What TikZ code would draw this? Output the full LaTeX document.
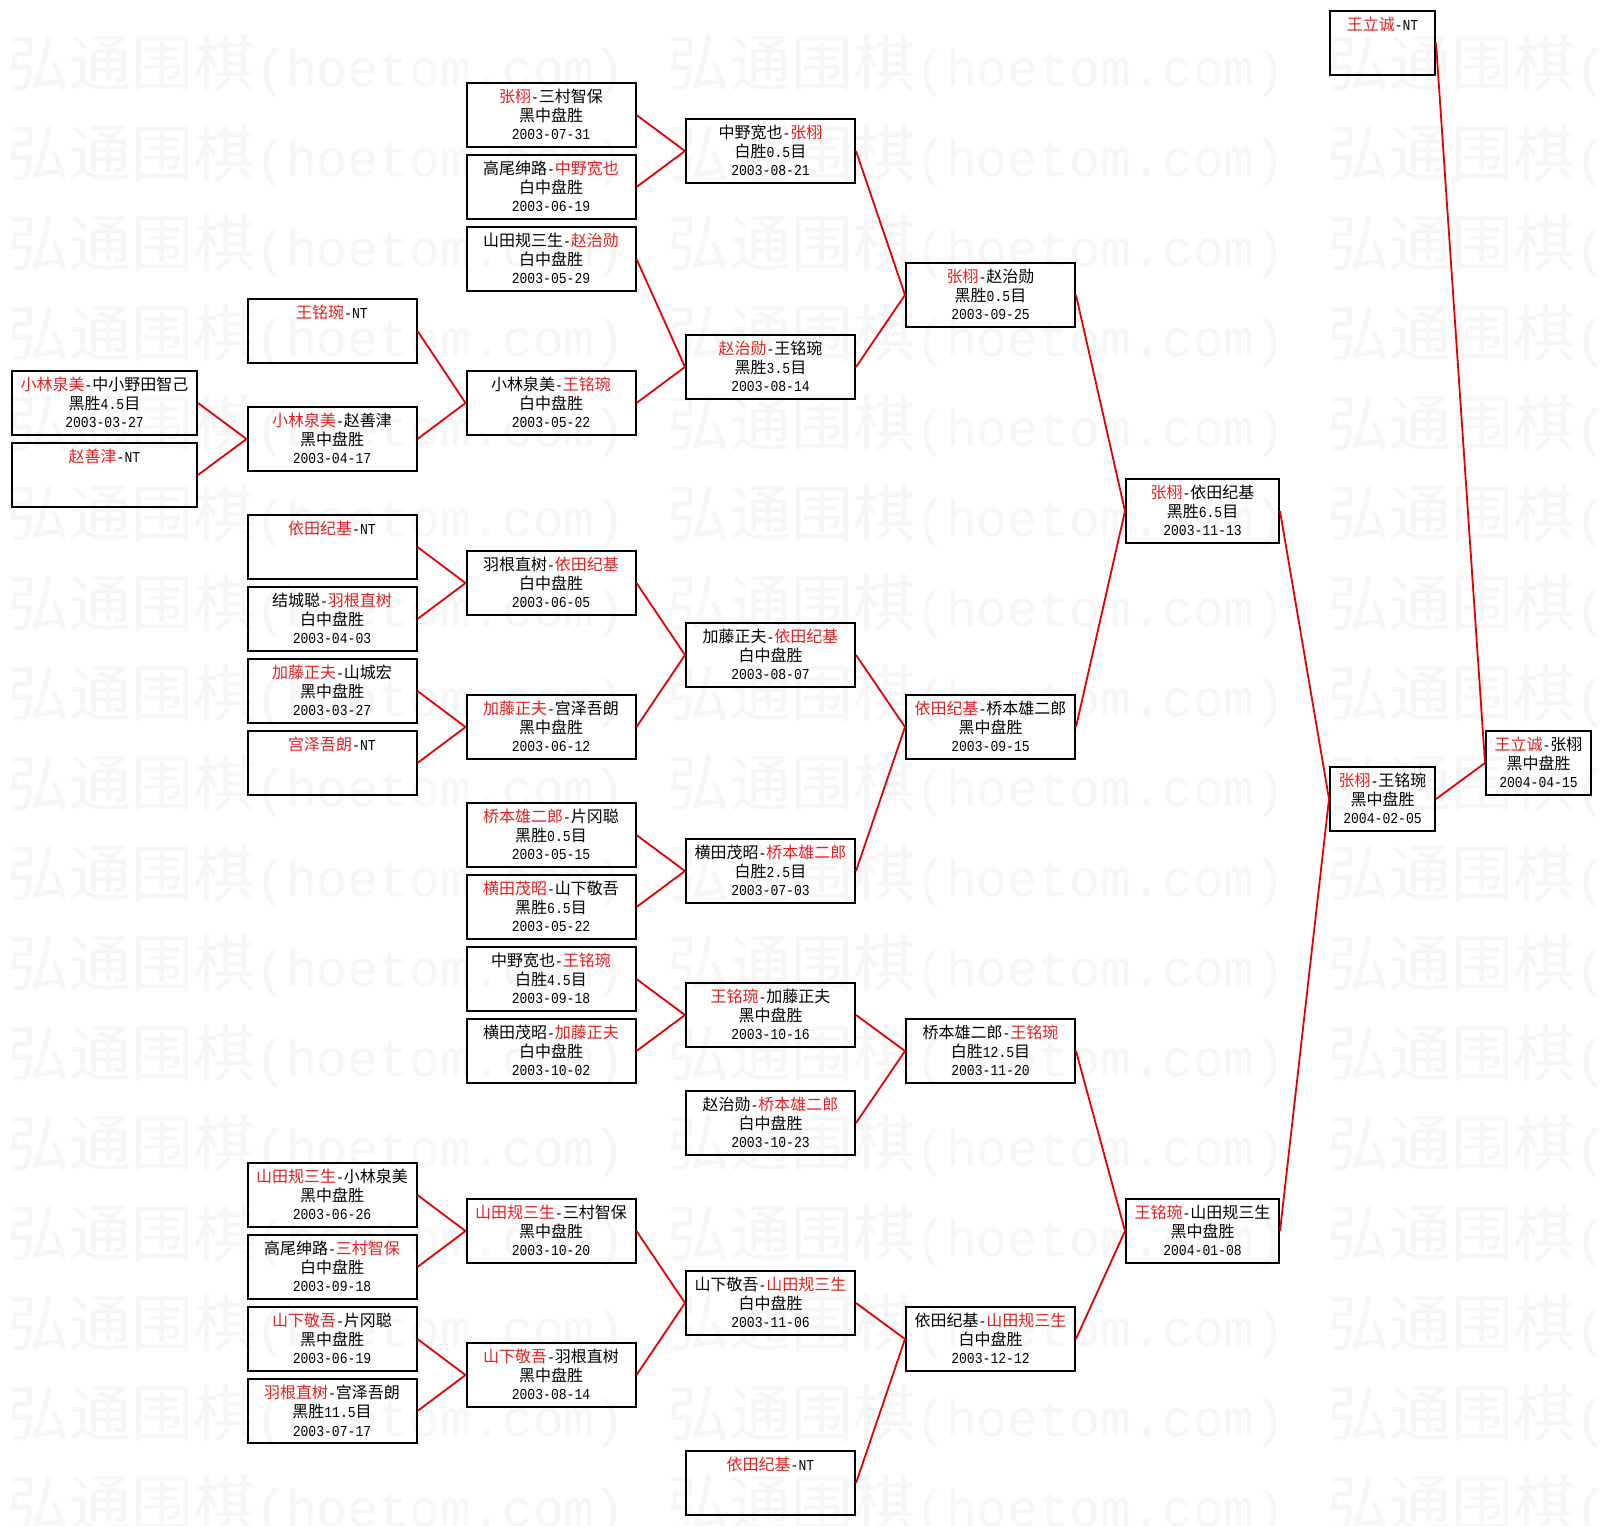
\documentclass[tikz,border=0pt]{standalone}
\usepackage{fontspec}
\setmainfont{Noto Sans CJK SC}
\newfontfamily\monof[Scale=0.95,FakeStretch=0.86]{Liberation Mono}
\newfontfamily\wmmono[Scale=0.83]{Liberation Mono}
\definecolor{wred}{RGB}{232,30,30}
\definecolor{lred}{RGB}{228,0,0}
\definecolor{wmark}{RGB}{246,246,246}
\newcommand\Rn[1]{{\color{wred}#1}}
\newcommand\Mn[1]{{\monof #1}}
\newcommand\Tx[3]{\rule{0pt}{18pt}#1\\\strut#2\\\strut#3}
\tikzset{
  game/.style={draw=black, line width=2pt, minimum height=64pt, inner sep=0pt,
    align=center, font=\fontsize{16}{18.8}\selectfont},
  colA/.style={game, minimum width=185pt},
  colB/.style={game, minimum width=169pt},
  colC/.style={game, minimum width=153pt},
  colD/.style={game, minimum width=105pt},
  link/.style={draw=lred, line width=1.8pt},
  wm/.style={text=wmark, anchor=west, inner sep=0pt, font=\fontsize{62}{62}\selectfont}
}
\begin{document}
\begin{tikzpicture}[x=1pt,y=-1pt]
\useasboundingbox (0,0) rectangle (1602,1525);
\fill[white] (0,0) rectangle (1602,1525);
\begin{scope}
\clip (0,0) rectangle (1602,1525);
\foreach \i in {0,...,16}
  \foreach \j in {0,1,2}
    \node[wm] (wm-\i-\j) at ({7+660*\j},{66+90*\i}) {弘通围棋\wmmono(hoetom.com)};
\end{scope}
% column 0
\node[colA] (c0k10) at (104.5,{43+36*10}) {\Tx{\Rn{小林泉美}\Mn{-}中小野田智己}{黑胜\Mn{4.5}目}{\Mn{2003-03-27}}};
\node[colA] (c0k12) at (104.5,{43+36*12}) {\Tx{\Rn{赵善津}\Mn{-NT}}{}{}};
% column 1
\node[colB] (c1k8)  at (332,{43+36*8})  {\Tx{\Rn{王铭琬}\Mn{-NT}}{}{}};
\node[colB] (c1k11) at (332,{43+36*11}) {\Tx{\Rn{小林泉美}\Mn{-}赵善津}{黑中盘胜}{\Mn{2003-04-17}}};
\node[colB] (c1k14) at (332,{43+36*14}) {\Tx{\Rn{依田纪基}\Mn{-NT}}{}{}};
\node[colB] (c1k16) at (332,{43+36*16}) {\Tx{结城聪\Mn{-}\Rn{羽根直树}}{白中盘胜}{\Mn{2003-04-03}}};
\node[colB] (c1k18) at (332,{43+36*18}) {\Tx{\Rn{加藤正夫}\Mn{-}山城宏}{黑中盘胜}{\Mn{2003-03-27}}};
\node[colB] (c1k20) at (332,{43+36*20}) {\Tx{\Rn{宫泽吾朗}\Mn{-NT}}{}{}};
\node[colB] (c1k32) at (332,{43+36*32}) {\Tx{\Rn{山田规三生}\Mn{-}小林泉美}{黑中盘胜}{\Mn{2003-06-26}}};
\node[colB] (c1k34) at (332,{43+36*34}) {\Tx{高尾绅路\Mn{-}\Rn{三村智保}}{白中盘胜}{\Mn{2003-09-18}}};
\node[colB] (c1k36) at (332,{43+36*36}) {\Tx{\Rn{山下敬吾}\Mn{-}片冈聪}{黑中盘胜}{\Mn{2003-06-19}}};
\node[colB] (c1k38) at (332,{43+36*38}) {\Tx{\Rn{羽根直树}\Mn{-}宫泽吾朗}{黑胜\Mn{11.5}目}{\Mn{2003-07-17}}};
% column 2
\node[colB] (c2k2)  at (551,{43+36*2})  {\Tx{\Rn{张栩}\Mn{-}三村智保}{黑中盘胜}{\Mn{2003-07-31}}};
\node[colB] (c2k4)  at (551,{43+36*4})  {\Tx{高尾绅路\Mn{-}\Rn{中野宽也}}{白中盘胜}{\Mn{2003-06-19}}};
\node[colB] (c2k6)  at (551,{43+36*6})  {\Tx{山田规三生\Mn{-}\Rn{赵治勋}}{白中盘胜}{\Mn{2003-05-29}}};
\node[colB] (c2k10) at (551,{43+36*10}) {\Tx{小林泉美\Mn{-}\Rn{王铭琬}}{白中盘胜}{\Mn{2003-05-22}}};
\node[colB] (c2k15) at (551,{43+36*15}) {\Tx{羽根直树\Mn{-}\Rn{依田纪基}}{白中盘胜}{\Mn{2003-06-05}}};
\node[colB] (c2k19) at (551,{43+36*19}) {\Tx{\Rn{加藤正夫}\Mn{-}宫泽吾朗}{黑中盘胜}{\Mn{2003-06-12}}};
\node[colB] (c2k22) at (551,{43+36*22}) {\Tx{\Rn{桥本雄二郎}\Mn{-}片冈聪}{黑胜\Mn{0.5}目}{\Mn{2003-05-15}}};
\node[colB] (c2k24) at (551,{43+36*24}) {\Tx{\Rn{横田茂昭}\Mn{-}山下敬吾}{黑胜\Mn{6.5}目}{\Mn{2003-05-22}}};
\node[colB] (c2k26) at (551,{43+36*26}) {\Tx{中野宽也\Mn{-}\Rn{王铭琬}}{白胜\Mn{4.5}目}{\Mn{2003-09-18}}};
\node[colB] (c2k28) at (551,{43+36*28}) {\Tx{横田茂昭\Mn{-}\Rn{加藤正夫}}{白中盘胜}{\Mn{2003-10-02}}};
\node[colB] (c2k33) at (551,{43+36*33}) {\Tx{\Rn{山田规三生}\Mn{-}三村智保}{黑中盘胜}{\Mn{2003-10-20}}};
\node[colB] (c2k37) at (551,{43+36*37}) {\Tx{\Rn{山下敬吾}\Mn{-}羽根直树}{黑中盘胜}{\Mn{2003-08-14}}};
% column 3
\node[colB] (c3k3)  at (770.5,{43+36*3})  {\Tx{中野宽也\Mn{-}\Rn{张栩}}{白胜\Mn{0.5}目}{\Mn{2003-08-21}}};
\node[colB] (c3k9)  at (770.5,{43+36*9})  {\Tx{\Rn{赵治勋}\Mn{-}王铭琬}{黑胜\Mn{3.5}目}{\Mn{2003-08-14}}};
\node[colB] (c3k17) at (770.5,{43+36*17}) {\Tx{加藤正夫\Mn{-}\Rn{依田纪基}}{白中盘胜}{\Mn{2003-08-07}}};
\node[colB] (c3k23) at (770.5,{43+36*23}) {\Tx{横田茂昭\Mn{-}\Rn{桥本雄二郎}}{白胜\Mn{2.5}目}{\Mn{2003-07-03}}};
\node[colB] (c3k27) at (770.5,{43+36*27}) {\Tx{\Rn{王铭琬}\Mn{-}加藤正夫}{黑中盘胜}{\Mn{2003-10-16}}};
\node[colB] (c3k30) at (770.5,{43+36*30}) {\Tx{赵治勋\Mn{-}\Rn{桥本雄二郎}}{白中盘胜}{\Mn{2003-10-23}}};
\node[colB] (c3k35) at (770.5,{43+36*35}) {\Tx{山下敬吾\Mn{-}\Rn{山田规三生}}{白中盘胜}{\Mn{2003-11-06}}};
\node[colB] (c3k40) at (770.5,{43+36*40}) {\Tx{\Rn{依田纪基}\Mn{-NT}}{}{}};
% column 4
\node[colB] (c4k7)  at (990.5,{43+36*7})  {\Tx{\Rn{张栩}\Mn{-}赵治勋}{黑胜\Mn{0.5}目}{\Mn{2003-09-25}}};
\node[colB] (c4k19) at (990.5,{43+36*19}) {\Tx{\Rn{依田纪基}\Mn{-}桥本雄二郎}{黑中盘胜}{\Mn{2003-09-15}}};
\node[colB] (c4k28) at (990.5,{43+36*28}) {\Tx{桥本雄二郎\Mn{-}\Rn{王铭琬}}{白胜\Mn{12.5}目}{\Mn{2003-11-20}}};
\node[colB] (c4k36) at (990.5,{43+36*36}) {\Tx{依田纪基\Mn{-}\Rn{山田规三生}}{白中盘胜}{\Mn{2003-12-12}}};
% column 5
\node[colC] (c5k13) at (1202.5,{43+36*13}) {\Tx{\Rn{张栩}\Mn{-}依田纪基}{黑胜\Mn{6.5}目}{\Mn{2003-11-13}}};
\node[colC] (c5k33) at (1202.5,{43+36*33}) {\Tx{\Rn{王铭琬}\Mn{-}山田规三生}{黑中盘胜}{\Mn{2004-01-08}}};
% column 6
\node[colD] (c6k0)  at (1382.5,{43+36*0})  {\Tx{\Rn{王立诚}\Mn{-NT}}{}{}};
\node[colD] (c6k21) at (1382.5,{43+36*21}) {\Tx{\Rn{张栩}\Mn{-}王铭琬}{黑中盘胜}{\Mn{2004-02-05}}};
% column 7
\node[colD] (c7k20) at (1538.5,{43+36*20}) {\Tx{\Rn{王立诚}\Mn{-}张栩}{黑中盘胜}{\Mn{2004-04-15}}};
% connectors
\foreach \a/\b in {c0k10/c1k11, c0k12/c1k11,
  c1k8/c2k10, c1k11/c2k10, c1k14/c2k15, c1k16/c2k15, c1k18/c2k19, c1k20/c2k19,
  c1k32/c2k33, c1k34/c2k33, c1k36/c2k37, c1k38/c2k37,
  c2k2/c3k3, c2k4/c3k3, c2k6/c3k9, c2k10/c3k9, c2k15/c3k17, c2k19/c3k17,
  c2k22/c3k23, c2k24/c3k23, c2k26/c3k27, c2k28/c3k27, c2k33/c3k35, c2k37/c3k35,
  c3k3/c4k7, c3k9/c4k7, c3k17/c4k19, c3k23/c4k19, c3k27/c4k28, c3k30/c4k28,
  c3k35/c4k36, c3k40/c4k36,
  c4k7/c5k13, c4k19/c5k13, c4k28/c5k33, c4k36/c5k33,
  c5k13/c6k21, c5k33/c6k21, c6k0/c7k20, c6k21/c7k20}
  \draw[link] (\a.east) -- (\b.west);
\end{tikzpicture}
\end{document}
